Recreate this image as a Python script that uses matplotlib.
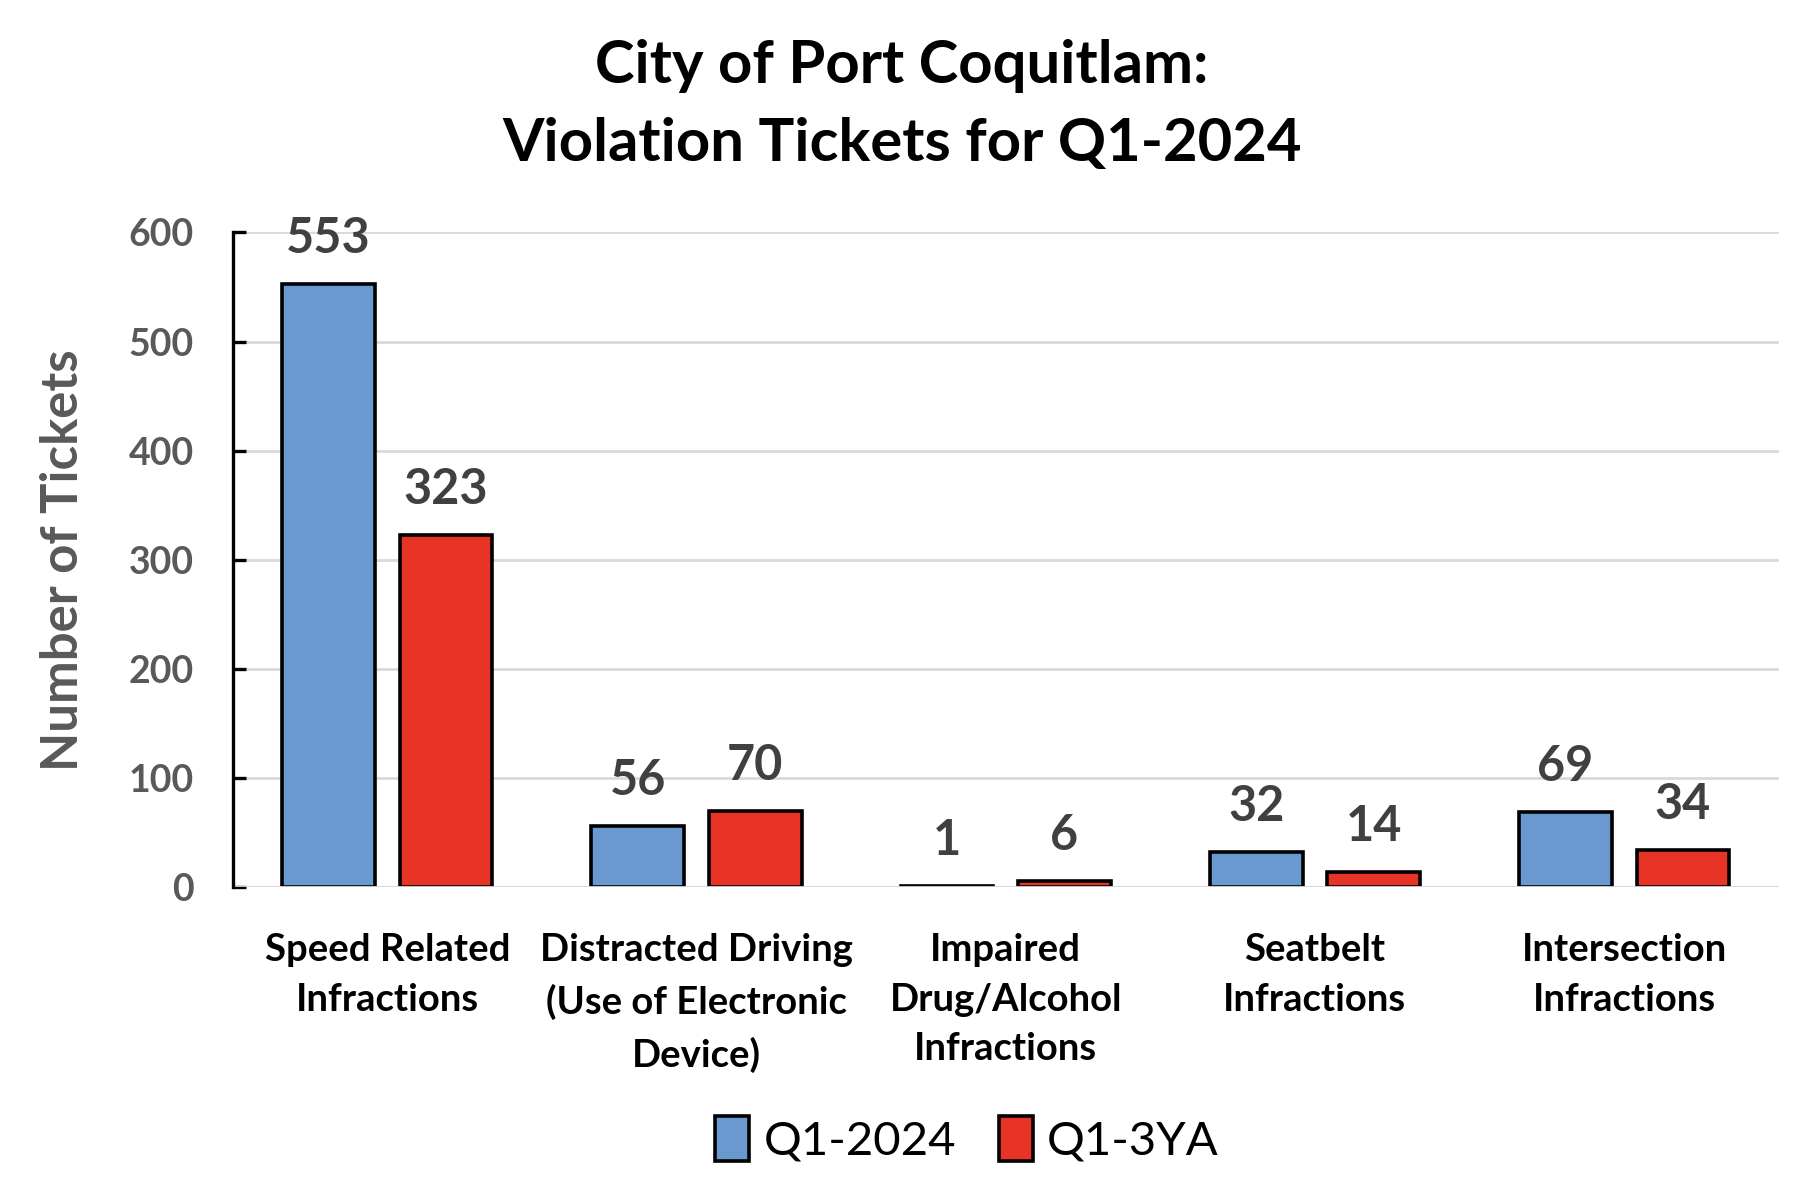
import numpy as np
import matplotlib.pyplot as plt
from matplotlib.patches import Patch

# categories and values
categories = ['Speed Related\nInfractions',
              'Distracted Driving\n(Use of Electronic\nDevice)',
              'Impaired\nDrug/Alcohol\nInfractions',
              'Seatbelt\nInfractions',
              'Intersection\nInfractions']
q1_2024 = [553, 56, 1, 32, 69]
q1_3ya = [323, 70, 6, 14, 34]
series_names = ['Q1-2024', 'Q1-3YA']

blue = '#6A99CF'
red = '#E83427'

plt.rcParams['font.family'] = ['Lato', 'DejaVu Sans']

fig = plt.figure(figsize=(18.04, 12.04), dpi=100)
ax = fig.add_axes([0.129, 0.263, 0.857, 0.544])

x = np.arange(len(categories))
w = 0.30
off = 0.19
b1 = ax.bar(x - off, q1_2024, w, color=blue, edgecolor='black', linewidth=2.6, zorder=3)
b2 = ax.bar(x + off, q1_3ya, w, color=red, edgecolor='black', linewidth=2.6, zorder=3)
# baseline gridline sits over the bar bottoms like in the original
ax.axhline(0, color='#D9D9D9', linewidth=2, zorder=4)

# value labels above bars
for bars, vals in [(b1, q1_2024), (b2, q1_3ya)]:
    for r, v in zip(bars, vals):
        ax.text(r.get_x() + r.get_width() / 2, v + 21, str(v), ha='center', va='bottom',
                fontsize=35, fontweight='bold', color='#404040')

ax.set_xlim(-0.5, len(categories) - 0.5)
ax.set_ylim(0, 600)
ax.set_yticks(range(0, 601, 100))
ax.yaxis.grid(True, color='#D9D9D9', linewidth=2, zorder=0)
ax.set_axisbelow(True)

for s in ['top', 'right', 'bottom']:
    ax.spines[s].set_visible(False)
ax.spines['left'].set_linewidth(2.4)
ax.spines['left'].set_color('black')
ax.spines['left'].set_zorder(5)

ax.tick_params(axis='y', direction='in', length=9, width=2.4, pad=28,
               labelsize=27, labelcolor='#595959')
for t in ax.get_yticklabels():
    t.set_fontweight('bold')
ax.tick_params(axis='x', length=0, pad=33)
ax.set_xticks(x)
ax.set_xticklabels(categories, fontsize=27.5, fontweight='bold', linespacing=1.55)

ax.set_ylabel('Number of Tickets', fontsize=36.6, fontweight='bold', color='#595959', labelpad=30)

fig.text(0.5, 0.913, 'City of Port Coquitlam:\nViolation Tickets for Q1-2024',
         ha='center', va='center', fontsize=43, fontweight='bold', linespacing=1.55)

handles = [Patch(facecolor=blue, edgecolor='black', linewidth=2.6),
           Patch(facecolor=red, edgecolor='black', linewidth=2.6)]
fig.legend(handles, series_names, loc='center', bbox_to_anchor=(0.536, 0.054),
           ncol=2, frameon=False, fontsize=34, handlelength=0.72, handleheight=1.1,
           handletextpad=0.3, columnspacing=0.9)

fig.savefig('out.png', dpi=100)
